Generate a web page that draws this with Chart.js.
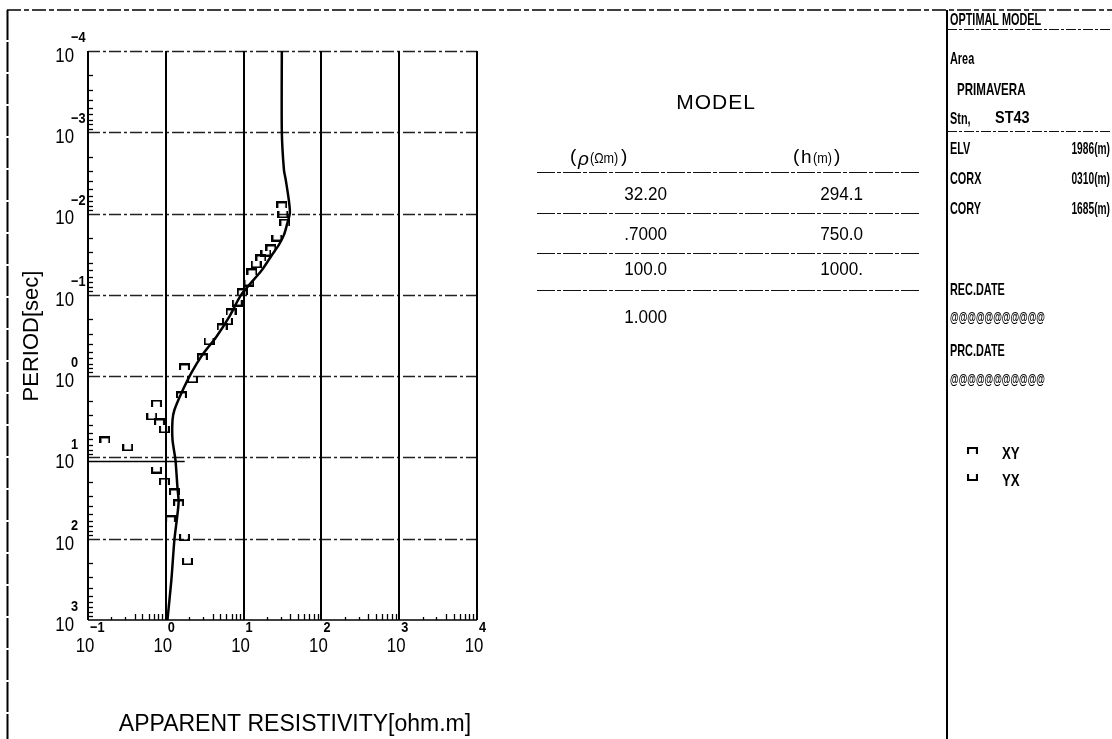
<!DOCTYPE html>
<html><head><meta charset="utf-8">
<script src="https://cdn.jsdelivr.net/npm/chart.js@4/dist/chart.umd.min.js"></script>
<style>html,body{margin:0;padding:0;background:#fff;}canvas{display:block;}</style>
</head><body>
<canvas id="c" width="1112" height="739"></canvas>
<script>
// ---- axis ticks ----
const xTickValues = [0.1, 1, 10, 100, 1000, 10000];
const xTickExponents = ['\u22121', '0', '1', '2', '3', '4'];
const yTickValues = [1e-4, 1e-3, 1e-2, 1e-1, 1, 10, 100, 1000];
const yTickExponents = ['\u22124', '\u22123', '\u22122', '\u22121', '0', '1', '2', '3'];

// ---- model response curve (period [s], apparent resistivity [ohm.m]) ----
const modelPeriod = [1e-4, 1e-3, 0.0029, 0.0039, 0.0068, 0.0098, 0.0138, 0.0183, 0.0243, 0.0323, 0.0494, 0.100, 0.187, 0.330, 0.548, 0.914, 1.61, 2.61, 3.46, 6.09, 10.7, 23.1, 36.3, 103, 321, 1000];
const modelRho    = [31.0, 31.0, 33.0, 34.9, 38.1, 39.3, 36.0, 33.0, 28.4, 23.1, 17.2, 9.29, 6.53, 4.45, 2.95, 2.13, 1.59, 1.29, 1.22, 1.22, 1.33, 1.41, 1.46, 1.29, 1.18, 1.05];

// ---- observed XY ----
const xyPeriod = [0.00783, 0.0127, 0.0265, 0.0352, 0.0522, 0.092, 0.162, 0.248, 0.581, 0.771, 1.70, 2.14, 3.66, 6.09, 19.5, 26.6, 36.3, 57];
const xyRho    = [31.0, 33.9, 22.5, 16.7, 12.8, 9.6, 6.9, 5.3, 2.95, 1.74, 1.59, 0.76, 0.83, 0.165, 0.96, 1.29, 1.46, 1.15];

// ---- observed YX ----
const yxPeriod = [0.0104, 0.0200, 0.0306, 0.0428, 0.0715, 0.126, 0.215, 0.379, 1.11, 3.18, 4.59, 7.64, 14.3, 97.7, 193];
const yxRho    = [32.0, 26.8, 19.4, 14.5, 11.7, 8.3, 6.2, 3.6, 2.20, 0.66, 0.96, 0.324, 0.76, 1.74, 1.90];

// ---- long error bar near 10 s ----
const errPeriod = [11.2, 11.2];
const errRho    = [0.1, 1.75];

// ---- model table ----
const tableRho = ['32.20', '.7000', '100.0', '1.000'];
const tableH   = ['294.1', '750.0', '1000.', ''];

// ---- info panel ----
const infoArea = 'PRIMAVERA';
const infoStation = 'ST43';
const infoKeys = ['ELV', 'CORX', 'CORY'];
const infoVals = ['1986(m)', '0310(m)', '1685(m)'];

const SANS = '"Liberation Sans",Arial,sans-serif';

function bracket(open) {
  const c = document.createElement('canvas');
  c.width = 11; c.height = 7;
  const g = c.getContext('2d');
  g.strokeStyle = '#000'; g.lineWidth = 2.2;
  g.beginPath();
  if (open === 'down') { g.moveTo(1, 7); g.lineTo(1, 1); g.lineTo(10, 1); g.lineTo(10, 7); }
  else { g.moveTo(1, 0); g.lineTo(1, 6); g.lineTo(10, 6); g.lineTo(10, 0); }
  g.stroke();
  return c;
}
const xyMark = bracket('down');
const yxMark = bracket('up');

const pts = (xs, ys) => xs.map((v, i) => ({x: ys[i], y: v}));

// text with optional horizontal squeeze (sx) to mimic the condensed plotter font
function txt(ctx, s, x, y, font, align, sx) {
  sx = sx || 1;
  ctx.save();
  ctx.font = font; ctx.textAlign = align || 'left'; ctx.textBaseline = 'middle';
  ctx.translate(x, y); ctx.scale(sx, 1);
  ctx.fillText(s, 0, 0);
  ctx.restore();
}

const decor = {
  id: 'decor',
  beforeDraw(chart) {
    const c = chart.ctx;
    c.save(); c.fillStyle = '#fff'; c.fillRect(0, 0, chart.width, chart.height); c.restore();
  },
  beforeDatasetsDraw(chart) {
    const {ctx, chartArea: a, scales: {x, y}} = chart;
    ctx.save();
    // horizontal dash-dot grid lines
    ctx.strokeStyle = '#222'; ctx.lineWidth = 1.3; ctx.setLineDash([12, 3, 3, 3]);
    yTickValues.slice(0, -1).forEach(v => {
      const py = Math.round(y.getPixelForValue(v)) + 0.5;
      ctx.beginPath(); ctx.moveTo(a.left, py); ctx.lineTo(a.right, py); ctx.stroke();
    });
    ctx.setLineDash([]);
    // bottom axis line
    ctx.lineWidth = 1.5; ctx.strokeStyle = '#000';
    ctx.beginPath(); ctx.moveTo(a.left, a.bottom); ctx.lineTo(a.right, a.bottom); ctx.stroke();
    // vertical solid decade lines
    ctx.lineWidth = 2;
    xTickValues.forEach(v => {
      const px = Math.round(x.getPixelForValue(v));
      ctx.beginPath(); ctx.moveTo(px, a.top); ctx.lineTo(px, a.bottom); ctx.stroke();
    });
    // minor ticks
    ctx.lineWidth = 1.3;
    for (let d = -4; d < 3; d++) for (let m = 2; m < 10; m++) {
      const py = Math.round(y.getPixelForValue(m * Math.pow(10, d))) + 0.5;
      ctx.beginPath(); ctx.moveTo(a.left, py); ctx.lineTo(a.left + 5, py); ctx.stroke();
    }
    for (let d = -1; d < 4; d++) for (let m = 2; m < 10; m++) {
      const px = Math.round(x.getPixelForValue(m * Math.pow(10, d))) + 0.5;
      ctx.beginPath(); ctx.moveTo(px, a.bottom); ctx.lineTo(px, a.bottom - (m < 4 ? 3 : 6)); ctx.stroke();
    }
    ctx.restore();
  },
  afterDraw(chart) {
    const {ctx, scales: {x, y}} = chart;
    ctx.save();
    ctx.fillStyle = '#000';
    // y tick labels
    yTickValues.forEach((v, i) => {
      const py = y.getPixelForValue(v);
      txt(ctx, '10', 74, py + 5, '21px ' + SANS, 'right', 0.8);
      txt(ctx, yTickExponents[i], 71, py - 13, 'bold 15px ' + SANS, 'left', 0.85);
    });
    // x tick labels
    xTickValues.forEach((v, i) => {
      const px = x.getPixelForValue(v);
      txt(ctx, '10', px - 3, 646, '21px ' + SANS, 'center', 0.8);
      txt(ctx, xTickExponents[i], px + 2, 628, 'bold 15px ' + SANS, 'left', 0.85);
    });
    // axis titles
    txt(ctx, 'APPARENT RESISTIVITY[ohm.m]', 295, 725, '23px ' + SANS, 'center');
    ctx.save(); ctx.translate(32, 336); ctx.rotate(-Math.PI / 2);
    txt(ctx, 'PERIOD[sec]', 0, 0, '22px ' + SANS, 'center');
    ctx.restore();

    // outer frame
    ctx.strokeStyle = '#000'; ctx.lineWidth = 1.5;
    ctx.setLineDash([14, 3, 5, 3]);
    ctx.beginPath(); ctx.moveTo(7, 10); ctx.lineTo(1112, 10); ctx.stroke();
    ctx.setLineDash([30, 2]);
    ctx.lineWidth = 2;
    ctx.beginPath(); ctx.moveTo(7.5, 10); ctx.lineTo(7.5, 739); ctx.stroke();
    ctx.setLineDash([]);
    ctx.beginPath(); ctx.moveTo(947, 10); ctx.lineTo(947, 739); ctx.stroke();

    // model table
    ctx.save(); ctx.letterSpacing = '1px';
    txt(ctx, 'MODEL', 716, 103, '21px ' + SANS, 'center');
    ctx.restore();
    txt(ctx, '(', 570, 157, '19px ' + SANS);
    txt(ctx, '\u03C1', 578, 160, 'italic 19px ' + SANS);
    txt(ctx, '(\u03A9m)', 590, 159, '14px ' + SANS, 'left', 0.9);
    txt(ctx, ')', 621, 157, '19px ' + SANS);
    txt(ctx, '(', 793, 157, '19px ' + SANS);
    txt(ctx, 'h', 801, 158, '19px ' + SANS);
    txt(ctx, '(m)', 813, 159, '14px ' + SANS, 'left', 0.9);
    txt(ctx, ')', 834, 157, '19px ' + SANS);
    ctx.lineWidth = 1.2; ctx.strokeStyle = '#111'; ctx.setLineDash([18, 2, 4, 2]);
    [172, 213, 253, 290].forEach(ly => { ctx.beginPath(); ctx.moveTo(537, ly + 0.5); ctx.lineTo(920, ly + 0.5); ctx.stroke(); });
    ctx.setLineDash([]);
    const rowY = [195, 235, 270, 318];
    tableRho.forEach((s, i) => txt(ctx, s, 667, rowY[i], '18px ' + SANS, 'right', 0.95));
    tableH.forEach((s, i) => txt(ctx, s, 863, rowY[i], '18px ' + SANS, 'right', 0.95));

    // info panel
    const B = 'bold 17px ' + SANS, S = 0.64;
    txt(ctx, 'OPTIMAL MODEL', 950, 20, B, 'left', S);
    ctx.lineWidth = 1; ctx.setLineDash([10, 2, 3, 2]);
    ctx.beginPath(); ctx.moveTo(947, 29.5); ctx.lineTo(1112, 29.5); ctx.stroke();
    ctx.beginPath(); ctx.moveTo(947, 131.5); ctx.lineTo(1112, 131.5); ctx.stroke();
    ctx.setLineDash([]);
    txt(ctx, 'Area', 950, 59, B, 'left', S);
    txt(ctx, infoArea, 957, 90, B, 'left', 0.68);
    txt(ctx, 'Stn,', 950, 119, B, 'left', S);
    txt(ctx, infoStation, 995, 118, B, 'left', 0.85);
    const infoY = [149, 179, 209];
    infoKeys.forEach((k, i) => { txt(ctx, k, 950, infoY[i], B, 'left', S); txt(ctx, infoVals[i], 1110, infoY[i], B, 'right', 0.6); });
    txt(ctx, 'REC.DATE', 950, 290, B, 'left', S);
    txt(ctx, '@@@@@@@@@@@', 950, 318, 'bold 15px ' + SANS, 'left', 0.59);
    txt(ctx, 'PRC.DATE', 950, 351, B, 'left', S);
    txt(ctx, '@@@@@@@@@@@', 950, 380, 'bold 15px ' + SANS, 'left', 0.59);
    ctx.drawImage(xyMark, 967, 447);
    txt(ctx, 'XY', 1002, 454, B, 'left', 0.78);
    ctx.drawImage(yxMark, 967, 474);
    txt(ctx, 'YX', 1002, 481, B, 'left', 0.78);
    ctx.restore();
  }
};

new Chart(document.getElementById('c'), {
  type: 'scatter',
  data: {
    datasets: [
      { label: 'model', data: pts(modelPeriod, modelRho), showLine: true, borderColor: '#000', borderWidth: 2.5, pointRadius: 0, tension: 0.25 },
      { label: 'err', data: pts(errPeriod, errRho), showLine: true, borderColor: '#000', borderWidth: 1.5, pointRadius: 0 },
      { label: 'XY', data: pts(xyPeriod, xyRho), pointStyle: xyMark, pointRadius: 5 },
      { label: 'YX', data: pts(yxPeriod, yxRho), pointStyle: yxMark, pointRadius: 5 }
    ]
  },
  options: {
    responsive: false, animation: false,
    layout: { padding: { left: 88, right: 635, top: 51, bottom: 119 } },
    scales: {
      x: { type: 'logarithmic', min: 0.1, max: 10000, display: false },
      y: { type: 'logarithmic', min: 1e-4, max: 1000, reverse: true, display: false }
    },
    plugins: { legend: { display: false }, tooltip: { enabled: false } }
  },
  plugins: [decor]
});
</script>
</body></html>
